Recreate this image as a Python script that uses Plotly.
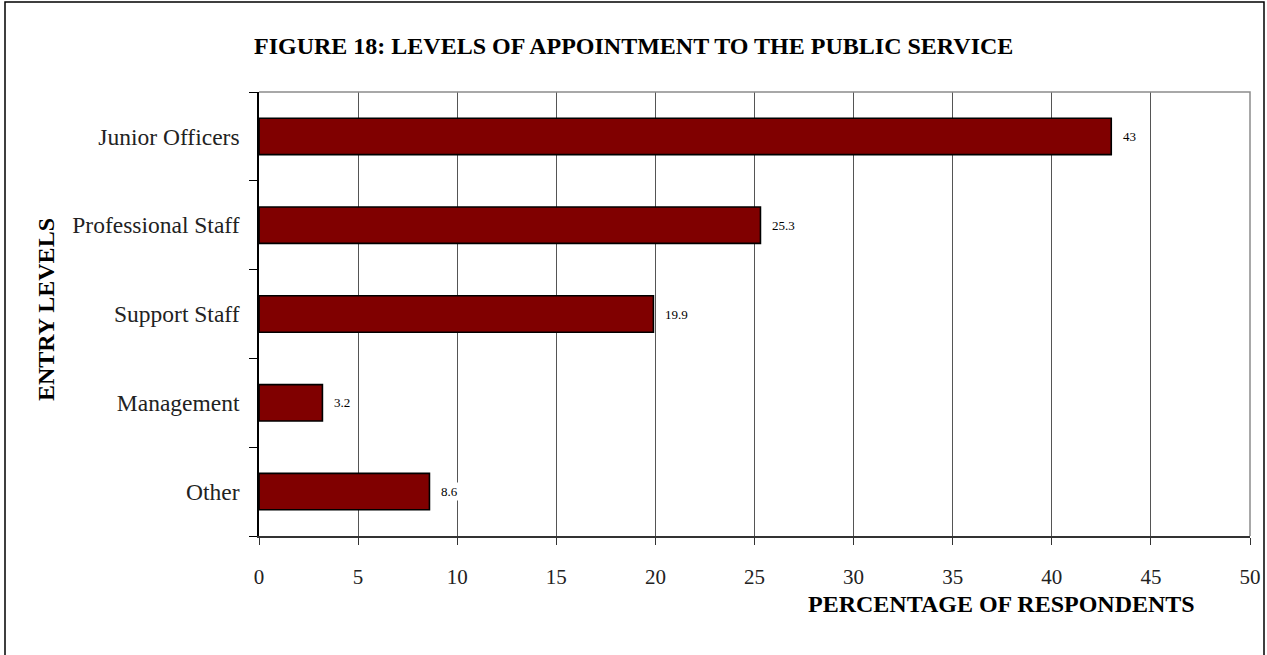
import plotly.graph_objects as go

# Entry levels and share of respondents (%)
categories = ["Junior Officers", "Professional Staff", "Support Staff", "Management", "Other"]
values = [43, 25.3, 19.9, 3.2, 8.6]
x_ticks = [0, 5, 10, 15, 20, 25, 30, 35, 40, 45, 50]

W, H = 1267, 655
ML, MR, MT, MB = 259, 17, 92, 119
PW, PH = W - ML - MR, H - MT - MB

SERIF = "Liberation Serif, Times New Roman, serif"


def px_x(p):
    return (p - ML) / PW


def px_y(p):
    return 1 - (p - MT) / PH


fig = go.Figure()
fig.add_trace(go.Bar(
    y=categories,
    x=values,
    orientation="h",
    width=0.41,
    marker=dict(color="#800000", line=dict(color="#000000", width=1.6)),
    hoverinfo="x+y",
))

# value labels to the right of each bar (white box hides the gridline behind)
for cat, v in zip(categories, values):
    fig.add_annotation(
        x=v, y=cat, xref="x", yref="y",
        text=f"{v:g}", showarrow=False,
        xanchor="left", xshift=10,
        bgcolor="#ffffff", borderpad=1,
        font=dict(family=SERIF, size=13, color="#000000"),
    )

# chart title
fig.add_annotation(
    x=px_x(633), y=px_y(46), xref="paper", yref="paper",
    text="<b>FIGURE 18: LEVELS OF APPOINTMENT TO THE PUBLIC SERVICE</b>",
    showarrow=False, xanchor="center", yanchor="middle",
    font=dict(family=SERIF, size=24, color="#000000"),
)
# axis titles
fig.add_annotation(
    x=px_x(1001), y=px_y(604), xref="paper", yref="paper",
    text="<b>PERCENTAGE OF RESPONDENTS</b>",
    showarrow=False, xanchor="center", yanchor="middle",
    font=dict(family=SERIF, size=24, color="#000000"),
)
fig.add_annotation(
    x=px_x(46), y=px_y(310), xref="paper", yref="paper",
    text="<b>ENTRY LEVELS</b>", textangle=-90,
    showarrow=False, xanchor="center", yanchor="middle",
    font=dict(family=SERIF, size=24, color="#000000"),
)

# outer frame of the figure
fig.add_shape(
    type="rect", xref="paper", yref="paper",
    x0=px_x(5), x1=px_x(1264), y0=px_y(660), y1=px_y(2),
    line=dict(color="#000000", width=1.5), fillcolor="rgba(0,0,0,0)", layer="below",
)
# grey top and right edges of the plotting area
fig.add_shape(
    type="path", xref="paper", yref="paper",
    path="M 0 1 L 1 1 L 1 0",
    line=dict(color="#8c8c8c", width=1.5),
)

fig.update_layout(
    template="none",
    width=W, height=H,
    margin=dict(l=ML, r=MR, t=MT, b=MB, autoexpand=False),
    paper_bgcolor="#ffffff", plot_bgcolor="#ffffff",
    showlegend=False,
    bargap=0.59,
    font=dict(family=SERIF, color="#000000"),
    xaxis=dict(
        range=[0, 50], tickvals=x_ticks, ticktext=[str(t) for t in x_ticks],
        automargin=False,
        showgrid=True, gridcolor="#555555", gridwidth=1,
        zeroline=False,
        showline=True, linecolor="#333333", linewidth=1.5,
        ticks="outside", ticklen=7, tickwidth=1, tickcolor="#333333",
        ticklabelstandoff=14,
        tickfont=dict(family=SERIF, size=21, color="#222222"),
        fixedrange=True,
    ),
    yaxis=dict(
        categoryorder="array", categoryarray=categories[::-1],
        automargin=False,
        showgrid=False, zeroline=False,
        showline=True, linecolor="#000000", linewidth=1.5,
        ticks="outside", ticklen=8, tickwidth=1, tickcolor="#000000",
        tickson="boundaries",
        ticklabelstandoff=13,
        tickfont=dict(family=SERIF, size=23.5, color="#222222"),
        fixedrange=True,
    ),
)

fig.write_html("out.html")
